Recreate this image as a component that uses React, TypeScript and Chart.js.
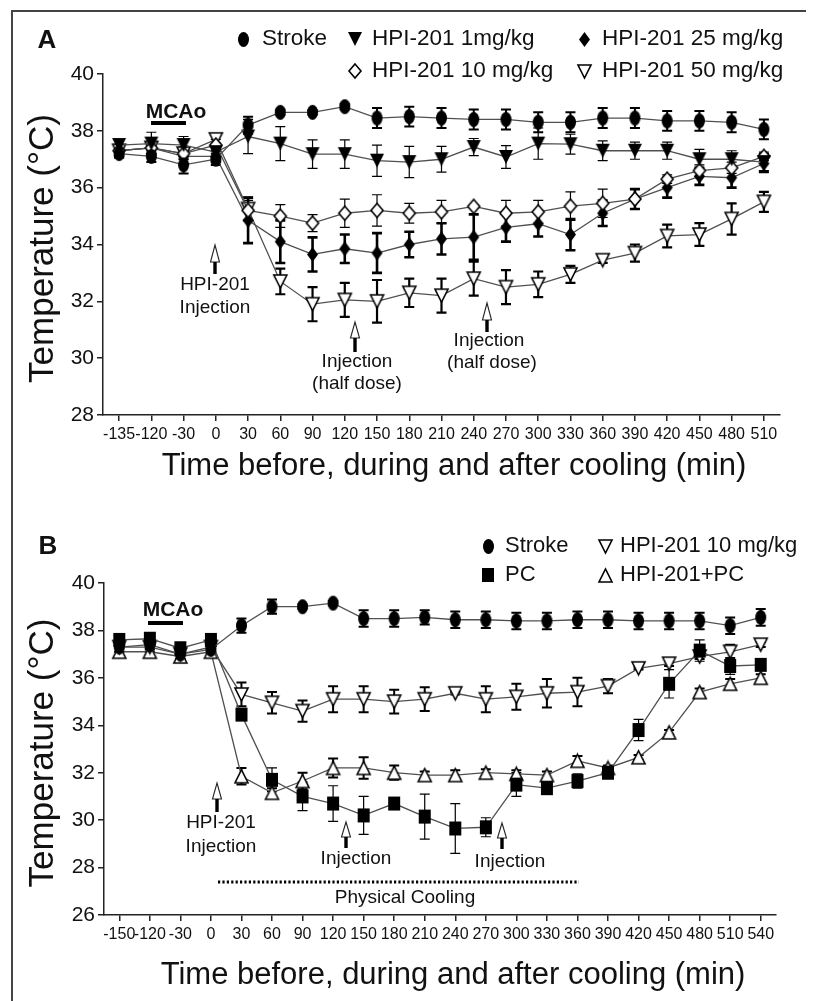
import React, { useEffect, useRef } from 'react';
import { Chart, registerables } from 'chart.js';
Chart.register(...registerables);

// ---------- Panel A data ----------
const catsA = ['-135','-120','-30','0','30','60','90','120','150','180','210','240','270','300','330','360','390','420','450','480','510'];
const strokeA = [37.2, 37.1, 36.8, 37.0, 38.2, 38.65, 38.65, 38.85, 38.45, 38.5, 38.45, 38.4, 38.4, 38.3, 38.3, 38.45, 38.45, 38.35, 38.35, 38.3, 38.05];
const strokeAErr = [0.15, 0.2, 0.3, 0.2, 0.3, 0.1, 0.08, 0.1, 0.35, 0.35, 0.35, 0.35, 0.35, 0.35, 0.35, 0.35, 0.35, 0.35, 0.35, 0.35, 0.35];
const mg1A = [37.5, 37.55, 37.5, 37.25, 37.8, 37.55, 37.18, 37.18, 36.95, 36.9, 37.0, 37.43, 37.08, 37.55, 37.53, 37.3, 37.3, 37.3, 37.0, 37.0, 36.9];
const mg1AErr = [0.2, 0.4, 0.3, 0.2, 0.6, 0.6, 0.5, 0.5, 0.55, 0.55, 0.45, 0.3, 0.4, 0.55, 0.35, 0.35, 0.3, 0.3, 0.35, 0.3, 0.3];
const mg10A = [37.3, 37.4, 37.2, 37.5, 35.2, 35.0, 34.75, 35.1, 35.2, 35.1, 35.15, 35.34, 35.1, 35.15, 35.35, 35.45, 35.6, 36.3, 36.6, 36.7, 37.1];
const mg10AErr = [0.2, 0.2, 0.2, 0.2, 0.35, 0.4, 0.3, 0.5, 0.55, 0.35, 0.4, 0.05, 0.45, 0.4, 0.5, 0.5, 0.35, 0.15, 0.2, 0.2, 0.15];
const mg25A = [37.3, 37.4, 37.1, 37.1, 34.85, 34.1, 33.65, 33.85, 33.7, 34.0, 34.2, 34.26, 34.6, 34.73, 34.35, 35.1, 35.6, 36.0, 36.4, 36.35, 36.85];
const mg25AErr = [0.2, 0.2, 0.3, 0.2, 0.8, 0.75, 0.6, 0.5, 0.7, 0.45, 0.55, 0.8, 0.5, 0.45, 0.55, 0.45, 0.35, 0.35, 0.3, 0.35, 0.3];
const mg50A = [37.3, 37.4, 37.2, 37.7, 35.25, 32.7, 31.9, 32.05, 32.0, 32.3, 32.2, 32.8, 32.5, 32.6, 32.95, 33.45, 33.7, 34.3, 34.35, 34.9, 35.5];
const mg50AErr = [0.2, 0.2, 0.2, 0.15, 0.4, 0.45, 0.6, 0.6, 0.75, 0.5, 0.6, 0.6, 0.6, 0.45, 0.3, 0.1, 0.3, 0.4, 0.4, 0.55, 0.35];

// ---------- Panel B data ----------
const catsB = ['-150','-120','-30','0','30','60','90','120','150','180','210','240','270','300','330','360','390','420','450','480','510','540'];
const strokeB = [37.3, 37.4, 37.0, 37.2, 38.2, 39.0, 39.0, 39.15, 38.5, 38.5, 38.55, 38.45, 38.45, 38.4, 38.4, 38.45, 38.45, 38.4, 38.4, 38.4, 38.2, 38.55];
const strokeBErr = [0.2, 0.2, 0.2, 0.2, 0.3, 0.3, 0.1, 0.1, 0.35, 0.35, 0.3, 0.35, 0.35, 0.35, 0.35, 0.35, 0.35, 0.35, 0.35, 0.35, 0.35, 0.35];
const pcB = [37.6, 37.65, 37.25, 37.6, 34.45, 31.7, 31.0, 30.7, 30.2, 30.7, 30.15, 29.65, 29.7, 31.5, 31.35, 31.65, 32.0, 33.8, 35.75, 37.15, 36.5, 36.55];
const pcBErr = [0.25, 0.25, 0.2, 0.25, 0.2, 0.5, 0.6, 0.75, 0.8, 0.2, 0.95, 1.05, 0.4, 0.5, 0.25, 0.3, 0.15, 0.45, 0.6, 0.45, 0.35, 0.1];
const mg10B = [37.3, 37.3, 37.0, 37.3, 35.3, 34.95, 34.6, 35.1, 35.1, 35.0, 35.1, 35.35, 35.1, 35.2, 35.35, 35.4, 35.65, 36.4, 36.6, 36.9, 37.1, 37.4];
const mg10BErr = [0.2, 0.2, 0.2, 0.2, 0.5, 0.45, 0.45, 0.55, 0.55, 0.5, 0.5, 0.05, 0.55, 0.55, 0.6, 0.6, 0.3, 0.05, 0.1, 0.1, 0.3, 0.1];
const hpipcB = [37.1, 37.1, 36.9, 37.1, 31.85, 31.15, 31.65, 32.2, 32.2, 32.0, 31.9, 31.9, 32.0, 31.95, 31.9, 32.5, 32.2, 32.65, 33.7, 35.4, 35.75, 36.0];
const hpipcBErr = [0.15, 0.15, 0.15, 0.15, 0.35, 0.2, 0.35, 0.4, 0.45, 0.3, 0.15, 0.2, 0.15, 0.15, 0.15, 0.2, 0.1, 0.1, 0.1, 0.15, 0.2, 0.15];

const yRangeA = [28, 40];
const yRangeB = [26, 40];
const yStep = 2;

const FONT = "'Liberation Sans', Arial, Helvetica, sans-serif";
const X_TITLE = 'Time before, during and after cooling (min)';
const Y_TITLE = 'Temperature (°C)';

type Shape = 'ellipse' | 'triDown' | 'triUp' | 'diamond' | 'square';

function makeMarker(shape: Shape, w: number, h: number, filled: boolean): HTMLCanvasElement {
  const pad = 2;
  const c = document.createElement('canvas');
  c.width = Math.round(w + pad * 2);
  c.height = Math.round(h + pad * 2);
  const ctx = c.getContext('2d')!;
  const cx = c.width / 2, cy = c.height / 2;
  ctx.beginPath();
  if (shape === 'ellipse') ctx.ellipse(cx, cy, w / 2, h / 2, 0, 0, Math.PI * 2);
  else if (shape === 'triDown') { ctx.moveTo(cx - w / 2, cy - h / 2); ctx.lineTo(cx + w / 2, cy - h / 2); ctx.lineTo(cx, cy + h / 2); ctx.closePath(); }
  else if (shape === 'triUp') { ctx.moveTo(cx - w / 2, cy + h / 2); ctx.lineTo(cx + w / 2, cy + h / 2); ctx.lineTo(cx, cy - h / 2); ctx.closePath(); }
  else if (shape === 'diamond') { ctx.moveTo(cx, cy - h / 2); ctx.lineTo(cx + w / 2, cy); ctx.lineTo(cx, cy + h / 2); ctx.lineTo(cx - w / 2, cy); ctx.closePath(); }
  else ctx.rect(cx - w / 2, cy - h / 2, w, h);
  if (filled) { ctx.fillStyle = '#000'; ctx.fill(); }
  else { ctx.fillStyle = '#fff'; ctx.fill(); ctx.lineWidth = 1.6; ctx.strokeStyle = '#000'; ctx.stroke(); }
  return c;
}

const errorBarPlugin = {
  id: 'errbars',
  beforeDatasetsDraw(chart: any) {
    const ctx = chart.ctx; const ys = chart.scales.y;
    chart.data.datasets.forEach((ds: any, di: number) => {
      const errs = ds.errors; if (!errs) return;
      const meta = chart.getDatasetMeta(di);
      ctx.save();
      ctx.strokeStyle = ds.errColor || '#000';
      ctx.lineWidth = ds.errWidth || 1;
      meta.data.forEach((pt: any, i: number) => {
        const e = errs[i]; if (!e) return;
        const v = ds.data[i];
        const x = pt.x;
        const y1 = ys.getPixelForValue(v + e), y2 = ys.getPixelForValue(v - e);
        const cw = (ds.capW || 10) / 2;
        ctx.beginPath();
        ctx.moveTo(x, y1); ctx.lineTo(x, y2);
        ctx.moveTo(x - cw, y1); ctx.lineTo(x + cw, y1);
        ctx.moveTo(x - cw, y2); ctx.lineTo(x + cw, y2);
        ctx.stroke();
      });
      ctx.restore();
    });
  },
};

function drawArrow(ctx: CanvasRenderingContext2D, x: number, top: number, headBottom: number, shaftBottom: number) {
  ctx.save();
  ctx.beginPath();
  ctx.moveTo(x, top); ctx.lineTo(x + 4.5, headBottom); ctx.lineTo(x - 4.5, headBottom); ctx.closePath();
  ctx.fillStyle = '#fff'; ctx.fill();
  ctx.lineWidth = 1.1; ctx.strokeStyle = '#222'; ctx.stroke();
  ctx.fillStyle = '#000';
  ctx.fillRect(x - 1.7, headBottom, 3.4, shaftBottom - headBottom);
  ctx.restore();
}

function text(ctx: CanvasRenderingContext2D, s: string, x: number, y: number, font: string, align: CanvasTextAlign = 'center', baseline: CanvasTextBaseline = 'middle') {
  ctx.save();
  ctx.font = font; ctx.fillStyle = '#111'; ctx.textAlign = align; ctx.textBaseline = baseline;
  ctx.fillText(s, x, y);
  ctx.restore();
}

function drawTitles(chart: any, xTitleX: number, xTitleY: number) {
  const ctx = chart.ctx; const a = chart.chartArea;
  text(ctx, X_TITLE, xTitleX, xTitleY, `31px ${FONT}`);
  ctx.save();
  ctx.translate(45, (a.top + a.bottom) / 2 + 4);
  ctx.rotate(-Math.PI / 2);
  text(ctx, Y_TITLE, 0, 0, `35px ${FONT}`, 'center', 'alphabetic');
  ctx.restore();
}

function legendItem(ctx: CanvasRenderingContext2D, m: HTMLCanvasElement, mx: number, tx: number, y: number, label: string, size: number) {
  ctx.drawImage(m, Math.round(mx - m.width / 2), Math.round(y - m.height / 2));
  text(ctx, label, tx, y, `${size}px ${FONT}`, 'left');
}

function makeOptions(yr: number[], rightPad: number, topPad: number, yWidth: number, xHeight: number) {
  return {
    responsive: false,
    animation: false,
    devicePixelRatio: 1,
    events: [],
    layout: { padding: { top: topPad, right: rightPad, left: 0, bottom: 0 } },
    plugins: { legend: { display: false }, tooltip: { enabled: false } },
    scales: {
      x: {
        type: 'category',
        offset: true,
        grid: { drawOnChartArea: false, drawTicks: true, tickLength: 6, color: '#222', lineWidth: 1.5 },
        border: { display: true, color: '#222', width: 1.5 },
        ticks: { autoSkip: false, maxRotation: 0, minRotation: 0, padding: 4, color: '#111', font: { family: FONT, size: 16 } },
        afterFit: (s: any) => { s.height = xHeight; },
      },
      y: {
        min: yr[0], max: yr[1],
        grid: { drawOnChartArea: false, drawTicks: true, tickLength: 6, color: '#222', lineWidth: 1.5 },
        border: { display: true, color: '#222', width: 1.5 },
        ticks: { stepSize: yStep, padding: 3, color: '#111', font: { family: FONT, size: 21 } },
        afterFit: (s: any) => { s.width = yWidth; },
      },
    },
  };
}

function ds(label: string, data: number[], errors: number[], marker: HTMLCanvasElement, errWidth: number) {
  return {
    label, data, errors, errWidth, capW: 10,
    pointStyle: marker, pointRadius: 6,
    borderColor: '#505050', borderWidth: 1.3, backgroundColor: '#000',
    fill: false, tension: 0,
  };
}

export default function App() {
  const refA = useRef<HTMLCanvasElement>(null);
  const refB = useRef<HTMLCanvasElement>(null);

  useEffect(() => {
    const mStroke = makeMarker('ellipse', 11, 15, true);
    const m1 = makeMarker('triDown', 14, 14, true);
    const m10 = makeMarker('diamond', 12, 14, false);
    const m25 = makeMarker('diamond', 11, 15, true);
    const m50 = makeMarker('triDown', 13, 13, false);
    const mStrokeB = makeMarker('ellipse', 11, 15, true);
    const mPC = makeMarker('square', 12, 14, true);
    const m10B = makeMarker('triDown', 13, 13, false);
    const mHP = makeMarker('triUp', 13, 13, false);

    const annA = {
      id: 'annA',
      afterDraw(chart: any) {
        const ctx = chart.ctx;
        drawTitles(chart, 446, 458);
        text(ctx, 'A', 39, 33, `bold 26px ${FONT}`);
        const lf = 22.5;
        legendItem(ctx, mStroke, 235, 254, 31, 'Stroke', lf);
        legendItem(ctx, m1, 347, 364, 31, 'HPI-201 1mg/kg', lf);
        legendItem(ctx, m25, 576, 594, 31, 'HPI-201 25 mg/kg', lf);
        legendItem(ctx, m10, 347, 364, 63, 'HPI-201 10 mg/kg', lf);
        legendItem(ctx, m50, 576, 594, 63, 'HPI-201 50 mg/kg', lf);
        text(ctx, 'MCAo', 168, 104, `bold 21px ${FONT}`);
        ctx.fillStyle = '#000'; ctx.fillRect(143, 113, 35, 4);
        const af = `19px ${FONT}`;
        drawArrow(ctx, 207, 237, 254, 266);
        text(ctx, 'HPI-201', 207, 277, af);
        text(ctx, 'Injection', 207, 300, af);
        drawArrow(ctx, 347, 314, 330, 344);
        text(ctx, 'Injection', 349, 354, af);
        text(ctx, '(half dose)', 349, 376, af);
        drawArrow(ctx, 479, 295, 312, 324);
        text(ctx, 'Injection', 481, 333, af);
        text(ctx, '(half dose)', 484, 355, af);
      },
    };

    const annB = {
      id: 'annB',
      afterDraw(chart: any) {
        const ctx = chart.ctx;
        drawTitles(chart, 445, 487);
        text(ctx, 'B', 40, 59, `bold 26px ${FONT}`);
        const lf = 22;
        legendItem(ctx, mStrokeB, 480, 497, 58, 'Stroke', lf);
        legendItem(ctx, m10B, 597, 612, 58, 'HPI-201 10 mg/kg', lf);
        legendItem(ctx, mPC, 480, 497, 87, 'PC', lf);
        legendItem(ctx, mHP, 597, 612, 87, 'HPI-201+PC', lf);
        text(ctx, 'MCAo', 165, 122, `bold 21px ${FONT}`);
        ctx.fillStyle = '#000'; ctx.fillRect(140, 133, 35, 4);
        const af = `19px ${FONT}`;
        drawArrow(ctx, 209, 295, 311, 324);
        text(ctx, 'HPI-201', 213, 335, af);
        text(ctx, 'Injection', 213, 359, af);
        drawArrow(ctx, 338, 334, 349, 360);
        text(ctx, 'Injection', 348, 371, af);
        drawArrow(ctx, 494, 335, 350, 361);
        text(ctx, 'Injection', 502, 374, af);
        ctx.save();
        ctx.strokeStyle = '#000'; ctx.lineWidth = 3; ctx.setLineDash([2.2, 2.2]);
        ctx.beginPath(); ctx.moveTo(210, 394); ctx.lineTo(571, 394); ctx.stroke();
        ctx.restore();
        text(ctx, 'Physical Cooling', 397, 410, af);
      },
    };

    const chartA = new Chart(refA.current!, {
      type: 'line',
      data: {
        labels: catsA,
        datasets: [
          ds('Stroke', strokeA, strokeAErr, mStroke, 2),
          ds('HPI-201 1mg/kg', mg1A, mg1AErr, m1, 1.2),
          ds('HPI-201 10 mg/kg', mg10A, mg10AErr, m10, 1.2),
          ds('HPI-201 25 mg/kg', mg25A, mg25AErr, m25, 2.6),
          ds('HPI-201 50 mg/kg', mg50A, mg50AErr, m50, 2.2),
        ],
      },
      options: makeOptions(yRangeA, 34, 66, 95, 73) as any,
      plugins: [errorBarPlugin, annA],
    });

    const chartB = new Chart(refB.current!, {
      type: 'line',
      data: {
        labels: catsB,
        datasets: [
          ds('Stroke', strokeB, strokeBErr, mStrokeB, 2),
          ds('PC', pcB, pcBErr, mPC, 1.2),
          ds('HPI-201 10 mg/kg', mg10B, mg10BErr, m10B, 2),
          ds('HPI-201+PC', hpipcB, hpipcBErr, mHP, 2),
        ],
      },
      options: makeOptions(yRangeB, 38, 95, 96, 86) as any,
      plugins: [errorBarPlugin, annB],
    });

    return () => { chartA.destroy(); chartB.destroy(); };
  }, []);

  return (
    <div style={{ position: 'relative', width: 806, height: 993, overflow: 'hidden', background: '#fff' }}>
      <div style={{ position: 'absolute', left: 3, top: 2, width: 797, height: 1200, borderTop: '2px solid #444', borderLeft: '2px solid #444', borderRight: '2px solid #444' }} />
      <canvas ref={refA} width={806} height={480} style={{ position: 'absolute', left: 0, top: 0 }} />
      <canvas ref={refB} width={806} height={513} style={{ position: 'absolute', left: 0, top: 480 }} />
    </div>
  );
}
